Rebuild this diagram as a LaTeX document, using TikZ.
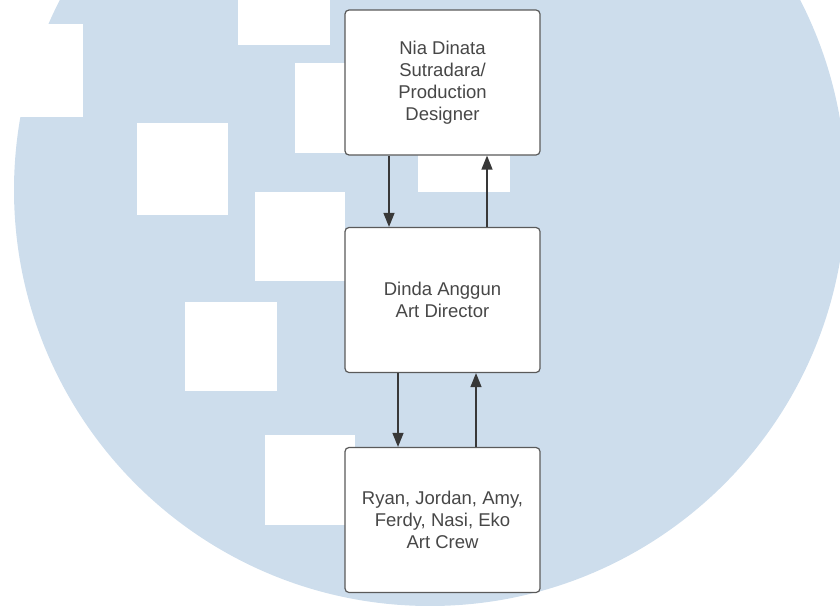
\documentclass[tikz,border=0pt]{standalone}
\usepackage{fontspec}
\setmainfont{Liberation Sans}
\usepackage{xcolor}
\usepackage{tikz}
\usetikzlibrary{arrows.meta}
\definecolor{WashBlue}{HTML}{CDDDEC}
\definecolor{BoxLine}{HTML}{5A5A5A}
\definecolor{InkGray}{HTML}{474747}
\definecolor{ArrowDark}{HTML}{383838}

\begin{document}
\begin{tikzpicture}[x=1pt, y=-1pt,
    patch/.style={fill=white},
    role/.style={draw=BoxLine, line width=1.2pt, rounded corners=4pt, fill=white,
        minimum width=195pt, minimum height=145pt, align=center,
        text=InkGray, font=\fontsize{18.5}{22}\selectfont},
    flow/.style={draw=ArrowDark, line width=1.3pt, -{Triangle[width=11pt, length=14pt]}}
]
\useasboundingbox (0,0) rectangle (840,605);
\clip (0,0) rectangle (840,605);

% Watermark circle and white patches
\fill[WashBlue] (430,190) circle (416pt);
\fill[patch] (0,24) rectangle (83,117);
\fill[patch] (238,0) rectangle (330,45);
\fill[patch] (295,63) rectangle (385,153);
\fill[patch] (137,123) rectangle (228,215);
\fill[patch] (255,192) rectangle (345,281);
\fill[patch] (418,100) rectangle (510,192);
\fill[patch] (185,302) rectangle (277,391);
\fill[patch] (265,435) rectangle (355,525);

% Role boxes
\node[role] (prod) at (442.5,82.5) {Nia Dinata\\Sutradara/\\Production\\Designer};
\node[role] (art) at (442.5,300) {Dinda Anggun\\Art Director};
\node[role] (crew) at (442.5,520) {Ryan, Jordan, Amy,\\Ferdy, Nasi, Eko\\Art Crew};

% Connectors
\draw[flow] ([xshift=-53.5pt]prod.south) -- ([xshift=-53.5pt]art.north);
\draw[flow] ([xshift=44.5pt]art.north) -- ([xshift=44.5pt]prod.south);
\draw[flow] ([xshift=-44.5pt]art.south) -- ([xshift=-44.5pt]crew.north);
\draw[flow] ([xshift=33.5pt]crew.north) -- ([xshift=33.5pt]art.south);
\end{tikzpicture}
\end{document}
